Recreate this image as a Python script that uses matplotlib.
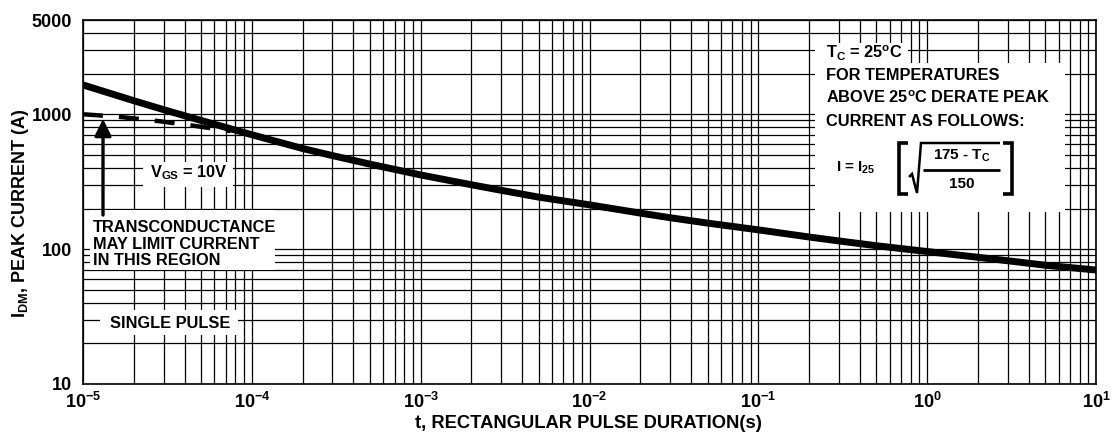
import math
import matplotlib
matplotlib.use("Agg")
import matplotlib.pyplot as plt
from matplotlib.patches import Rectangle
from matplotlib.ticker import FixedLocator, FuncFormatter, NullFormatter

plt.rcParams['font.family'] = ['Liberation Sans', 'DejaVu Sans']
plt.rcParams['font.weight'] = 'bold'
plt.rcParams['mathtext.fontset'] = 'custom'
plt.rcParams['mathtext.rm'] = 'Liberation Sans:bold'
plt.rcParams['mathtext.it'] = 'Liberation Sans:bold'
plt.rcParams['mathtext.bf'] = 'Liberation Sans:bold'
plt.rcParams['mathtext.sf'] = 'Liberation Sans:bold'

# peak current curve
pulse_t = [1e-5, 2e-5, 3e-5, 5e-5, 1e-4, 2e-4, 3e-4, 5e-4, 1e-3, 2e-3, 3e-3, 5e-3,
           1e-2, 2e-2, 3e-2, 5e-2, 1e-1, 2e-1, 3e-1, 5e-1, 1, 2, 3, 5, 10]
peak_i = [1650, 1260, 1082, 900, 705, 557, 494, 427, 355, 300, 273, 243,
          213, 185, 171, 156, 139, 123, 115, 106, 96, 87, 82, 76, 70]

# transconductance limit (dashed)
gm_t = [1e-5, 1.6e-5, 2.8e-5, 4.6e-5, 7.5e-5]
gm_i = [1000, 960, 890, 820, 750]

x_decades = [-5, -4, -3, -2, -1, 0, 1]
y_ticks = [10, 100, 1000, 5000]

fig = plt.figure(figsize=(11.12, 4.4), dpi=100)
ax = fig.add_axes([83 / 1112, 1 - 384 / 440, 1013 / 1112, 364 / 440])

ax.plot(pulse_t, peak_i, color='black', lw=5, solid_joinstyle='round', zorder=4)
ax.plot(gm_t, gm_i, color='black', lw=3.2, dashes=(4.5, 3.6), zorder=4)

ax.set_xscale('log')
ax.set_yscale('log')
ax.set_xlim(1e-5, 10)
ax.set_ylim(10, 5000)

ax.xaxis.set_major_locator(FixedLocator([10.0 ** d for d in x_decades]))
ax.xaxis.set_major_formatter(FuncFormatter(lambda v, p: r'$10^{%d}$' % round(math.log10(v))))
ax.xaxis.set_minor_formatter(NullFormatter())
ax.yaxis.set_major_locator(FixedLocator(y_ticks))
ax.yaxis.set_major_formatter(FuncFormatter(lambda v, p: '%d' % v))
ax.yaxis.set_minor_formatter(NullFormatter())

ax.tick_params(which='both', length=0)
ax.tick_params(axis='x', labelsize=13, pad=6)
ax.tick_params(axis='y', labelsize=13, pad=8)

ax.set_axisbelow(True)
ax.grid(True, which='both', color='black', lw=0.9)
for s in ax.spines.values():
    s.set_color('black')
    s.set_linewidth(1.2)

fig.text(588 / 1112, 1 - 423 / 440, 't, RECTANGULAR PULSE DURATION(s)',
         ha='center', va='center', fontsize=13.2, fontweight='bold')
fig.text(21 / 1112, 1 - 213 / 440, 'I$_{DM}$, PEAK CURRENT (A)', rotation=90,
         ha='center', va='center', fontsize=13, fontweight='bold')


def px(x, y):
    return (x - 83) / 1013, (384 - y) / 364


def white_box(x0, y0, x1, y1):
    ax0, ay1 = px(x0, y0)
    ax1, ay0 = px(x1, y1)
    ax.add_patch(Rectangle((ax0, ay0), ax1 - ax0, ay1 - ay0, transform=ax.transAxes,
                           facecolor='white', edgecolor='none', zorder=3))


def seg(xs, ys, lw):
    pts = [px(x, y) for x, y in zip(xs, ys)]
    ax.plot([p[0] for p in pts], [p[1] for p in pts], transform=ax.transAxes,
            color='black', lw=lw, solid_capstyle='butt', solid_joinstyle='miter',
            clip_on=False, zorder=5)


def label(x, y, s, ha='left', size=11.8, **kw):
    ax.text(*px(x, y), s, transform=ax.transAxes, ha=ha, va='center',
            fontsize=size, zorder=5, **kw)


# left annotations
white_box(143, 162, 233, 187)
label(189, 173, 'V$_{GS}$ = 10V', ha='center')
white_box(90, 210, 275, 270)
label(93, 244, 'TRANSCONDUCTANCE\nMAY LIMIT CURRENT\nIN THIS REGION', linespacing=1.1)
white_box(100, 310, 238, 335)
label(170, 323, 'SINGLE PULSE', ha='center')
ax.annotate('', xy=px(103, 119), xytext=px(103, 215), xycoords='axes fraction',
            textcoords='axes fraction',
            arrowprops=dict(arrowstyle='-|>,head_length=1.0,head_width=0.5', color='black',
                            lw=2.4, shrinkA=0, shrinkB=0), zorder=5)

# right annotations
white_box(815, 43, 908, 63)
white_box(815, 63, 1065, 212)
label(826, 53, 'T$_C$ = 25$^o$C')
label(826, 75, 'FOR TEMPERATURES')
label(826, 98, 'ABOVE 25$^o$C DERATE PEAK')
label(826, 121, 'CURRENT AS FOLLOWS:')
label(836, 168, 'I = I$_{25}$', size=11)
# derating formula: brackets, root sign, fraction
seg([908, 899, 899, 908], [143, 143, 194, 194], 2.6)
seg([1003, 1012, 1012, 1003], [143, 143, 194, 194], 2.6)
seg([909, 912, 917, 921, 1000], [177, 174, 193, 143, 143], 1.8)
seg([923, 1000], [170, 170], 2.0)
label(962, 156, '175 - T$_C$', ha='center', size=11)
label(962, 184, '150', ha='center', size=11)

fig.savefig('out.png', dpi=100)
